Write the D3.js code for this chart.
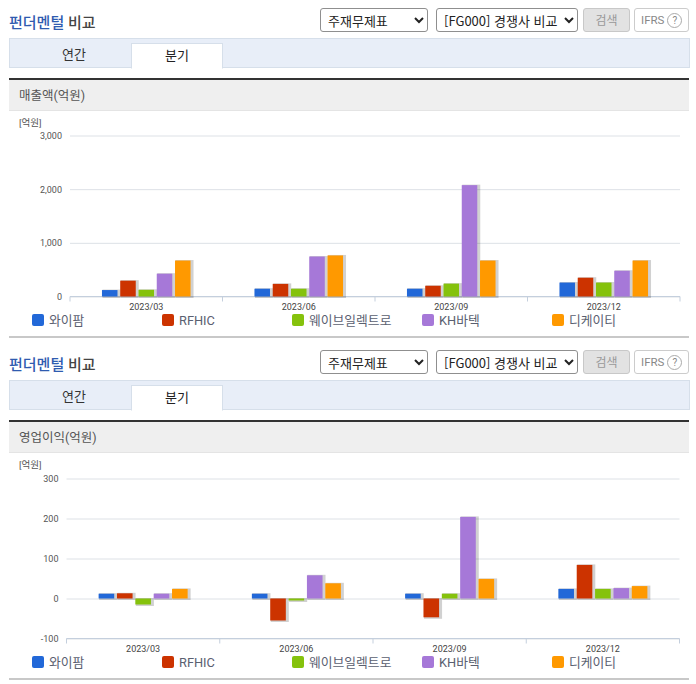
<!DOCTYPE html>
<html lang="ko"><head><meta charset="utf-8">
<script src="https://cdnjs.cloudflare.com/ajax/libs/d3/7.8.5/d3.min.js"></script>
<style>
html,body{margin:0;padding:0;background:#fff;overflow:hidden}
#root{position:relative;width:696px;height:684px;font-family:"Noto Sans CJK KR","Noto Sans",sans-serif}
svg{position:absolute;left:0;top:0}
text{font-family:Roboto,"Noto Sans CJK KR",sans-serif}
select{position:absolute;box-sizing:border-box;height:24px;border:1px solid #8f8f8f;border-radius:3px;background:#fff;color:#222;
 font:13px "Noto Sans CJK KR",sans-serif;padding:0 0 0 3px}
.btn{position:absolute;box-sizing:border-box;height:24px;border-radius:3px;font-size:12px;text-align:center;line-height:22px}
</style></head><body><div id="root"></div>
<script>
const categories=["2023/03","2023/06","2023/09","2023/12"];
const companies=["와이팜","RFHIC","웨이브일렉트로","KH바텍","디케이티"];
const colors=["#2268d8","#cc3300","#85c20c","#a678d8","#ff9900"];
const legendX=[32,162,292,422,552];
const revenue=[[120,295,125,425,670],[145,235,145,745,765],[145,200,240,2075,670],[260,350,260,480,670]];
const profit=[[12,13,-15,12,24],[12,-55,-5,58,38],[12,-47,12,204,49],[24,84,24,26,31]];
const revenueTicks=[0,1000,2000,3000];
const profitTicks=[-100,0,100,200,300];
const panels=[
 {top:0,title:"매출액(억원)",data:revenue,ticks:revenueTicks,y0:135.5,y1:296.5,x0:70,x1:680,fmt:d3.format(",")},
 {top:342,title:"영업이익(억원)",data:profit,ticks:profitTicks,y0:136.5,y1:296.5,x0:66.5,x1:679.5,fmt:d=>String(d)}
];
const root=d3.select("#root");
const svg=root.append("svg").attr("width",696).attr("height",684);

panels.forEach(p=>{
  const g=svg.append("g").attr("transform",`translate(0,${p.top})`);
  // header
  const t=g.append("text").attr("x",9).attr("y",28).attr("font-size",15).attr("font-weight",500);
  t.append("tspan").attr("fill","#2f5bb0").text("펀더멘털");
  t.append("tspan").attr("fill","#444").text(" 비교");
  root.append("select").style("left","320px").style("top",(p.top+8)+"px").style("width","108px")
    .append("option").text("주재무제표");
  root.append("select").style("left","436px").style("top",(p.top+8)+"px").style("width","142px")
    .append("option").text("[FG000] 경쟁사 비교");
  root.append("div").attr("class","btn").style("left","583px").style("top",(p.top+8)+"px").style("width","47px")
    .style("background","#e2e2e2").style("border","1px solid #c8c8c8").style("color","#999").text("검색");
  const ifrs=root.append("div").attr("class","btn").style("left","634px").style("top",(p.top+8)+"px").style("width","55px")
    .style("border","1px solid #ccc").style("color","#888").style("font-size","11.5px").style("font-family","Roboto").style("text-align","left").style("padding-left","6px");
  ifrs.append("span").text("IFRS ");
  ifrs.append("span").style("display","inline-block").style("width","13px").style("height","13px").style("line-height","13px")
    .style("border","1px solid #aaa").style("border-radius","50%").style("text-align","center").style("font-size","10px").text("?");
  // tabs
  g.append("rect").attr("x",9.5).attr("y",38.5).attr("width",680).attr("height",29).attr("fill","#e8eef8").attr("stroke","#d6dfea");
  g.append("rect").attr("x",131.5).attr("y",43.5).attr("width",91).attr("height",24.5).attr("fill","#fff").attr("stroke","#d6dfea");
  g.append("rect").attr("x",132).attr("y",66).attr("width",90).attr("height",3).attr("fill","#fff");
  g.append("text").attr("x",74).attr("y",58.5).attr("text-anchor","middle").attr("font-size",13).attr("fill","#333").text("연간");
  g.append("text").attr("x",177).attr("y",59.5).attr("text-anchor","middle").attr("font-size",13).attr("fill","#222").text("분기");
  // band
  g.append("rect").attr("x",9).attr("y",80).attr("width",680).attr("height",30).attr("fill","#efefef");
  g.append("rect").attr("x",9).attr("y",78).attr("width",680).attr("height",2).attr("fill","#333");
  g.append("rect").attr("x",9).attr("y",110).attr("width",680).attr("height",1).attr("fill","#e4e4e4");
  g.append("text").attr("x",19).attr("y",100).attr("font-size",12.5).attr("fill","#555").text(p.title);
  g.append("text").attr("x",19).attr("y",126).attr("font-size",9.5).attr("fill","#555").text("[억원]");
  // scales
  const dom=d3.extent(p.ticks);
  const y=d3.scaleLinear().domain(dom).range([p.y1,p.y0]);
  const x=d3.scaleBand().domain(categories).range([p.x0,p.x1]);
  const inner=d3.scaleBand().domain(companies).range([0,x.bandwidth()]).paddingInner(0.15).paddingOuter(1.75);
  // grid
  const yAxis=g.append("g").attr("transform",`translate(${p.x0},0)`).call(d3.axisLeft(y).tickValues(p.ticks).tickFormat(p.fmt).tickSize(0).tickPadding(8));
  yAxis.select(".domain").remove();
  yAxis.selectAll("text").attr("font-size",9).attr("fill","#555");
  yAxis.selectAll(".tick").append("line").attr("x2",p.x1-p.x0).attr("stroke","#dde1e6").attr("stroke-width",1);
  // x axis
  const xAxisG=g.append("g").attr("transform",`translate(0,${p.y1})`);
  xAxisG.call(d3.axisBottom(x).tickSize(0).tickPadding(7));
  xAxisG.select(".domain").remove();
  xAxisG.selectAll("text").attr("font-size",9).attr("fill","#444");
  xAxisG.append("line").attr("x1",p.x0).attr("x2",p.x1).attr("stroke","#c4cfdd");
  xAxisG.selectAll(".sep").data(d3.range(5)).join("line").attr("class","sep")
    .attr("x1",i=>p.x0+i*x.step()).attr("x2",i=>p.x0+i*x.step()).attr("y1",0).attr("y2",5).attr("stroke","#c4cfdd");
  // bars
  const rows=p.data.flatMap((r,i)=>r.map((v,j)=>({cat:categories[i],name:companies[j],c:colors[j],v})));
  const bx=d=>x(d.cat)+inner(d.name), by=d=>y(Math.max(0,d.v)), bh=d=>Math.abs(y(d.v)-y(0));
  g.append("g").selectAll("rect").data(rows).join("rect")
    .attr("x",d=>bx(d)+0.5).attr("y",d=>by(d)-0.5).attr("width",inner.bandwidth()+2.5).attr("height",d=>bh(d)+2)
    .attr("fill","#000").attr("opacity",0.18);
  g.append("g").selectAll("rect").data(rows).join("rect")
    .attr("x",bx).attr("y",by).attr("width",inner.bandwidth()).attr("height",bh).attr("fill",d=>d.c);
  // legend
  const lg=g.append("g").selectAll("g").data(companies).join("g").attr("transform",(d,i)=>`translate(${legendX[i]},${p.y1+17.5})`);
  lg.append("rect").attr("width",12).attr("height",12).attr("rx",2).attr("fill",(d,i)=>colors[i]);
  lg.append("text").attr("x",17).attr("y",11).attr("font-size",12.8).attr("fill","#5a6070").text(d=>d);
  // rule
  g.append("rect").attr("x",9).attr("y",336).attr("width",680).attr("height",2).attr("fill","#c8c8c8");
});
</script></body></html>
